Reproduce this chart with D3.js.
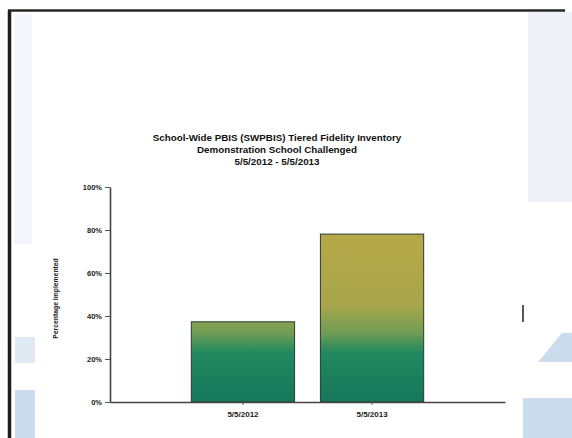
<!DOCTYPE html>
<html>
<head>
<meta charset="utf-8">
<script src="https://cdn.jsdelivr.net/npm/d3@7"></script>
<style>
    body { margin: 0; background: #fff; }
    svg { display: block; font-family: "Liberation Sans", Arial, sans-serif; }
</style>
</head>
<body>
<div id="vis-container"></div>
<script>
// data
const dates = ["5/5/2012", "5/5/2013"];
const implemented = [0.373, 0.781];
const yTicks = [0, 0.2, 0.4, 0.6, 0.8, 1.0];
const titleLines = [
    "School-Wide PBIS (SWPBIS) Tiered Fidelity Inventory",
    "Demonstration School Challenged",
    "5/5/2012 - 5/5/2013"
];

let width = 572;
let height = 438;

let margins = { top: 187, right: 67, bottom: 36, left: 110 };
let visWidth = width - margins.left - margins.right;
let visHeight = height - margins.top - margins.bottom;

let svg = d3.select("#vis-container").append("svg").attr("width", width).attr("height", height)

// scan artifacts: faint blue patches near the edges
let scan = svg.append("g").attr("id", "scan")
scan.append("rect").attr("x", 528).attr("y", 12).attr("width", 44).attr("height", 190)
    .attr("fill", "#eef2f8")
scan.append("path").attr("d", "M538,362 L562,333 L572,333 L572,362 Z").attr("fill", "#cadcee")
scan.append("rect").attr("x", 523).attr("y", 398).attr("width", 49).attr("height", 40).attr("fill", "#cadcee")
scan.append("rect").attr("x", 15).attr("y", 337).attr("width", 20).attr("height", 26).attr("fill", "#e0eaf5")
scan.append("rect").attr("x", 15).attr("y", 390).attr("width", 20).attr("height", 48).attr("fill", "#cadcee")
scan.append("rect").attr("x", 14).attr("y", 14).attr("width", 18).attr("height", 230).attr("fill", "#f3f6fa")

// slide frame (left and top edges only show)
svg.append("line").attr("x1", 9.5).attr("y1", 10).attr("x2", 9.5).attr("y2", height)
    .attr("stroke", "#1e1e1e").attr("stroke-width", 3.5)
svg.append("line").attr("x1", 8).attr("y1", 10.5).attr("x2", 565).attr("y2", 10.5)
    .attr("stroke", "#262626").attr("stroke-width", 2.5)
svg.append("line").attr("x1", 523).attr("y1", 305).attr("x2", 523).attr("y2", 322)
    .attr("stroke", "#222").attr("stroke-width", 1.5)

let viewport = svg.append("g")
    .attr("transform", "translate(" + margins.left + "," + margins.top + ")")

const xScale = d3.scaleBand().domain(dates).range([0, visWidth]).paddingInner(0.2).paddingOuter(0.63)
const yScale = d3.scaleLinear().domain([0, 1]).range([visHeight, 0])

// gradient tied to the axis, not to each bar
const defs = svg.append("defs")
const grad = defs.append("linearGradient").attr("id", "barFill")
    .attr("gradientUnits", "userSpaceOnUse")
    .attr("x1", 0).attr("y1", 0).attr("x2", 0).attr("y2", visHeight)
grad.append("stop").attr("offset", 0).attr("stop-color", "#bfa947")
grad.append("stop").attr("offset", 0.55).attr("stop-color", "#a8a64b")
grad.append("stop").attr("offset", 0.68).attr("stop-color", "#6f9c54")
grad.append("stop").attr("offset", 0.77).attr("stop-color", "#21885f")
grad.append("stop").attr("offset", 1).attr("stop-color", "#15775a")

viewport.append("g")
    .selectAll("rect")
    .data(dates)
    .enter().append("rect")
    .attr("x", d => xScale(d))
    .attr("y", (d, i) => yScale(implemented[i]))
    .attr("width", xScale.bandwidth())
    .attr("height", (d, i) => visHeight - yScale(implemented[i]))
    .attr("fill", "url(#barFill)")
    .attr("stroke", "#2c3a32")
    .attr("stroke-width", 1)

// axes
let xAxis = viewport.append("g").attr("transform", "translate(0," + visHeight + ")")
    .call(d3.axisBottom(xScale).tickSize(3).tickSizeOuter(0).tickPadding(6))
let yAxis = viewport.append("g")
    .call(d3.axisLeft(yScale).tickValues(yTicks).tickFormat(d3.format(".0%")).tickSize(5).tickSizeOuter(0).tickPadding(3))

;[xAxis, yAxis].forEach(ax => {
    ax.select(".domain").attr("stroke", "#444").attr("stroke-width", 1.6)
    ax.selectAll(".tick line").attr("stroke", "#555")
    ax.selectAll("text").attr("fill", "#222").style("font-size", "7.5px").style("font-weight", "bold")
})
xAxis.selectAll("text").style("font-size", "8px")

viewport.append("text")
    .attr("transform", "translate(-52," + (visHeight / 2 + 4) + ") rotate(-90)")
    .attr("text-anchor", "middle")
    .attr("fill", "#222")
    .style("font-size", "6.8px")
    .style("font-weight", "bold")
    .text("Percentage Implemented")

// title
svg.append("g").selectAll("text")
    .data(titleLines)
    .enter().append("text")
    .attr("x", 277)
    .attr("y", (d, i) => 141 + i * 12)
    .attr("text-anchor", "middle")
    .attr("fill", "#111")
    .style("font-size", "9.8px")
    .style("font-weight", "bold")
    .text(d => d)
</script>
</body>
</html>
